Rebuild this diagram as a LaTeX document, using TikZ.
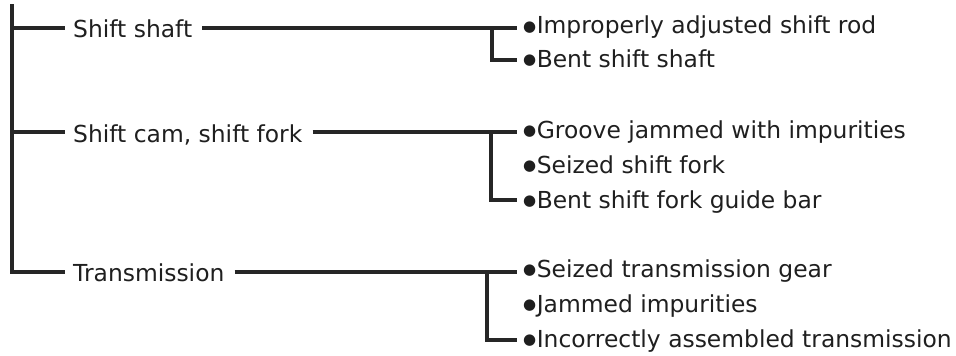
\documentclass[tikz,border=0pt]{standalone}
\usepackage{fontspec}
\setmainfont{DejaVu Sans}
\newcommand\bt{\raisebox{2.6pt}{\fontsize{15}{15}\selectfont ●}\hspace{0.5pt}}
\begin{document}
\begin{tikzpicture}[x=1pt,y=-1pt,
  lbl/.style={anchor=base west, inner sep=0pt, font=\fontsize{23.4}{28}\selectfont, text=black!88},
  ln/.style={line width=3.5pt, draw=black!85}]
\useasboundingbox (0,0) rectangle (956,356);
% group labels
\node[lbl] (g1) at (73,37.5) {Shift shaft};
\node[lbl] (g2) at (73,142) {Shift cam, shift fork};
\node[lbl] (g3) at (73,281.5) {Transmission};
% items
\node[lbl] (i11) at (523,34) {\bt Improperly adjusted shift rod};
\node[lbl] (i12) at (523,67) {\bt Bent shift shaft};
\node[lbl] (i21) at (523,138) {\bt Groove jammed with impurities};
\node[lbl] (i22) at (523,173) {\bt Seized shift fork};
\node[lbl] (i23) at (523,208) {\bt Bent shift fork guide bar};
\node[lbl] (i31) at (523,277) {\bt Seized transmission gear};
\node[lbl] (i32) at (523,312) {\bt Jammed impurities};
\node[lbl] (i33) at (523,347) {\bt Incorrectly assembled transmission};
% trunk coordinates
\coordinate (top) at (12,4);
\coordinate (b1) at (12,28);
\coordinate (b2) at (12,132);
\coordinate (b3) at (12,272);
% bracket coordinates
\coordinate (k1) at (492,28);
\coordinate (m12) at (492,60);
\coordinate (k2) at (491,132);
\coordinate (m23) at (491,200);
\coordinate (k3) at (487,272);
\coordinate (m33) at (487,340);
% trunk
\draw[ln] (top) -- (b3) -- ([xshift=-8pt]b3 -| g3.west);
\draw[ln,shorten >=8pt] (b1) -- (b1 -| g1.west);
\draw[ln,shorten >=8pt] (b2) -- (b2 -| g2.west);
% group to items
\draw[ln,shorten <=10pt,shorten >=6pt] (b1 -| g1.east) -- (k1 -| i11.west);
\draw[ln,shorten >=6pt] (k1) -- (m12) -- (m12 -| i12.west);
\draw[ln,shorten <=10pt,shorten >=6pt] (b2 -| g2.east) -- (k2 -| i21.west);
\draw[ln,shorten >=6pt] (k2) -- (m23) -- (m23 -| i23.west);
\draw[ln,shorten <=10pt,shorten >=6pt] (b3 -| g3.east) -- (k3 -| i31.west);
\draw[ln,shorten >=6pt] (k3) -- (m33) -- (m33 -| i33.west);
\end{tikzpicture}
\end{document}
